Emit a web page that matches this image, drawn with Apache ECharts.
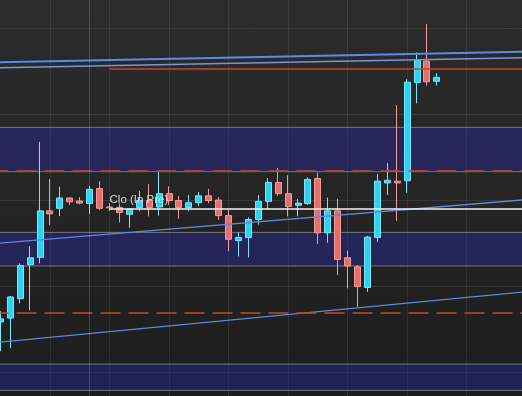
<!DOCTYPE html>
<html><head><meta charset="utf-8">
<script src="https://cdn.jsdelivr.net/npm/echarts@6/dist/echarts.min.js"></script>
<style>
html,body{margin:0;padding:0;background:#242424;overflow:hidden}
#c{width:522px;height:396px;background:linear-gradient(#2c2c2c,#1d1d1d)}
</style>
</head><body><div id="c"></div>
<script>
// categories (bar slots; slot 0 and slots 46..54 are empty)
const categories = ['0','1','2','3','4','5','6','7','8','9','10','11','12','13','14','15','16','17','18','19','20','21','22','23','24','25','26','27','28','29','30','31','32','33','34','35','36','37','38','39','40','41','42','43','44','45','46','47','48','49','50','51','52','53','54'];
const firstBar = 1;
const opens  = [4.318,4.327,4.372,4.451,4.468,4.576,4.582,4.606,4.599,4.593,4.628,4.585,4.584,4.568,4.584,4.600,4.585,4.616,4.600,4.584,4.595,4.611,4.601,4.565,4.507,4.514,4.556,4.598,4.642,4.616,4.589,4.593,4.651,4.525,4.576,4.467,4.446,4.398,4.514,4.641,4.645,4.646,4.874,4.924,4.877];
const closes = [4.325,4.376,4.449,4.467,4.576,4.569,4.606,4.597,4.594,4.626,4.582,4.583,4.572,4.580,4.600,4.584,4.616,4.600,4.584,4.595,4.611,4.600,4.565,4.510,4.514,4.556,4.598,4.642,4.616,4.586,4.594,4.649,4.525,4.576,4.463,4.448,4.400,4.515,4.645,4.647,4.641,4.875,4.925,4.876,4.886];
const lows   = [4.250,4.257,4.361,4.345,4.454,4.543,4.564,4.590,4.591,4.569,4.578,4.576,4.549,4.537,4.575,4.563,4.565,4.590,4.558,4.575,4.587,4.594,4.555,4.482,4.470,4.468,4.544,4.580,4.611,4.563,4.563,4.590,4.499,4.502,4.427,4.396,4.353,4.388,4.504,4.613,4.553,4.618,4.826,4.867,4.867];
const highs  = [4.343,4.378,4.454,4.494,4.736,4.650,4.632,4.607,4.608,4.634,4.645,4.594,4.593,4.582,4.622,4.638,4.666,4.633,4.611,4.613,4.620,4.627,4.608,4.579,4.526,4.561,4.613,4.652,4.676,4.659,4.604,4.654,4.665,4.607,4.604,4.484,4.450,4.518,4.662,4.687,4.822,4.882,4.944,5.010,4.896];

// price levels
const bands = [[4.770, 4.667], [4.526, 4.448], [4.220, 4.159]];
const dashedLevels = [4.665, 4.336];
const resistanceLevel = 4.906;
const closeLevel = 4.582;
const closeLabel = 'Clo (In Pre)';
const levelStartSlot = 12;
const sessionSlot = 10;
// trend lines: [value at slot 0, value at slot 54]
const trendLines = [[4.921, 4.946], [4.908, 4.932], [4.499, 4.602], [4.269, 4.388]];
const yTicks = {min: 4.0, max: 5.2, interval: 0.2};

const candleData = categories.map((c, i) => {
  const k = i - firstBar;
  if (k < 0 || k >= opens.length) return ['-', '-', '-', '-'];
  return [opens[k], closes[k], lows[k], highs[k]];
});

const last = categories.length - 1;
const trendStyles = [
  {color: '#5b8cea', width: 2},
  {color: '#7896d6', width: 1.4},
  {color: '#6088d8', width: 1.3},
  {color: '#6088d8', width: 1.3}
];

const markLineData = [];
trendLines.forEach((t, i) => {
  markLineData.push([
    {coord: [0, t[0]], lineStyle: {color: trendStyles[i].color, width: trendStyles[i].width, type: 'solid', opacity: 1}},
    {coord: [last, t[1]]}
  ]);
});
dashedLevels.forEach(v => {
  markLineData.push({yAxis: v, lineStyle: {color: '#bb4d27', width: 1.5, type: [20, 8], dashOffset: 2}});
});
markLineData.push([
  {coord: [levelStartSlot, resistanceLevel], lineStyle: {color: '#c4462a', width: 1.5, type: 'solid'}},
  {coord: [last, resistanceLevel]}
]);
markLineData.push([
  {coord: [levelStartSlot, closeLevel], lineStyle: {color: '#f4f4f4', width: 1.5, type: 'solid'},
   label: {show: true, formatter: closeLabel, position: 'insideStartTop', distance: [0, 2],
           color: 'rgba(230,230,230,0.9)', fontSize: 11.5, fontFamily: 'Liberation Sans, Arial, sans-serif'}},
  {coord: [last, closeLevel]}
]);
markLineData.push({xAxis: sessionSlot, lineStyle: {color: 'rgba(255,255,255,0.16)', width: 1, type: 'solid'}});

const chart = echarts.init(document.getElementById('c'), null, {renderer: 'canvas'});
chart.setOption({
  animation: false,
  backgroundColor: 'transparent',
  grid: {left: -9.52, top: -57.7, width: 9.92 * (categories.length - 1), height: 516.48,
         containLabel: false, outerBoundsMode: 'none'},
  xAxis: {
    type: 'category', data: categories, boundaryGap: false,
    axisLine: {show: false}, axisTick: {show: false}, axisLabel: {show: false},
    splitLine: {show: true, interval: (idx) => idx % 6 === 0, lineStyle: {color: 'rgba(255,255,255,0.08)', width: 1}}
  },
  yAxis: {
    type: 'value', min: yTicks.min, max: yTicks.max, interval: yTicks.interval, scale: false,
    axisLine: {show: false}, axisTick: {show: false}, axisLabel: {show: false},
    splitLine: {show: true, lineStyle: {color: 'rgba(255,255,255,0.09)', width: 1}}
  },
  series: [{
    type: 'candlestick',
    data: candleData,
    barWidth: 6.5,
    itemStyle: {color: '#2bd2f2', color0: '#e56f6d', borderColor: '#7be6fb', borderColor0: '#f39b98', borderWidth: 1},
    markArea: {
      silent: true,
      itemStyle: {color: 'rgba(40,40,170,0.4)', borderColor: '#787878', borderWidth: 1},
      data: bands.map(b => [{yAxis: b[0]}, {yAxis: b[1]}])
    },
    markLine: {
      silent: true, symbol: ['none', 'none'], label: {show: false}, animation: false,
      data: markLineData
    }
  }]
});
</script>
</body></html>
